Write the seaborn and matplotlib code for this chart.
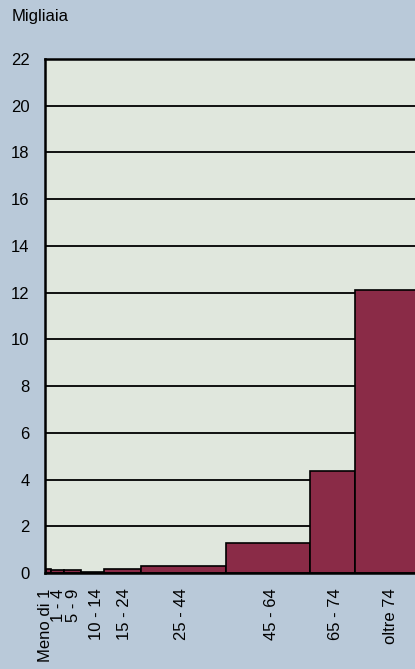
import matplotlib
matplotlib.use("Agg")
import matplotlib.pyplot as plt
import seaborn as sns

# Age classes (labels) and values in thousands
age_labels = ["Meno di 1", "1 - 4", "5 - 9", "10 - 14", "15 - 24",
              "25 - 44", "45 - 64", "65 - 74", "oltre 74"]
values = [0.15, 0.14, 0.12, 0.04, 0.18, 0.32, 1.3, 4.35, 12.1]
# class boundaries on the drawn horizontal scale
edges = [45, 50, 63, 80, 103, 140, 225, 310, 355, 425]
y_ticks = list(range(0, 23, 2))

bg = "#b9c9d9"
plot_bg = "#e0e7dd"
bar_color = "#8a2b47"

sns.set_style("white")
plt.rcParams["font.family"] = ["Liberation Sans", "DejaVu Sans"]
plt.rcParams["text.color"] = "black"
plt.rcParams["xtick.color"] = "black"
plt.rcParams["ytick.color"] = "black"

mids = [(a + b) / 2 for a, b in zip(edges[:-1], edges[1:])]

fig = plt.figure(figsize=(4.15, 6.69), dpi=100, facecolor=bg)
ax = fig.add_axes([45 / 415, 1 - 573 / 669, 1 - 45 / 415, (573 - 59) / 669])
ax.set_facecolor(plot_bg)

sns.histplot(x=mids, weights=values, bins=edges, stat="count",
             color=bar_color, edgecolor="black", linewidth=1.2, alpha=1,
             ax=ax)

ax.set_xlim(45, 415)
ax.set_ylim(0, 22)
ax.set_axisbelow(True)
ax.set_yticks(y_ticks)
ax.set_yticklabels([str(t) for t in y_ticks], fontsize=12, color="black")
ax.yaxis.grid(True, color="black", linewidth=1.3)
ax.tick_params(axis="y", length=0, pad=11)

label_pos = [44, 58, 73, 96, 124, 181, 271, 335, 390]
ax.set_xticks(label_pos)
ax.set_xticklabels(age_labels, rotation=90, fontsize=12, va="top", ha="center",
                   color="black")
ax.tick_params(axis="x", length=0, pad=11)

ax.set_xlabel("")
ax.set_ylabel("")
for side in ["left", "bottom", "top"]:
    ax.spines[side].set_color("black")
    ax.spines[side].set_linewidth(1.8)
ax.spines["right"].set_visible(False)

fig.text(12 / 415, 1 - 17 / 669, "Migliaia", fontsize=12, va="center", ha="left",
         color="black")

fig.savefig("out.png", dpi=100, facecolor=bg)
